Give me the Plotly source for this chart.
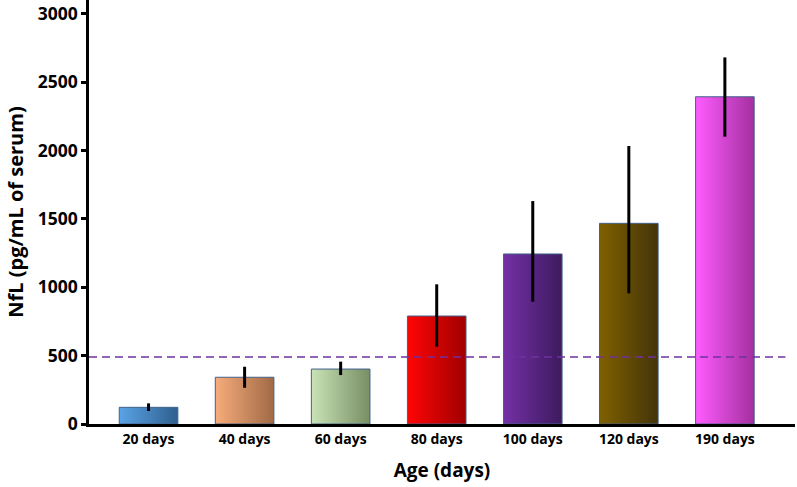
import plotly.graph_objects as go

categories = ["20 days", "40 days", "60 days", "80 days", "100 days", "120 days", "190 days"]
values = [122, 342, 402, 790, 1244, 1468, 2394]
err_plus = [29, 77, 54, 232, 387, 566, 288]
err_minus = [27, 77, 44, 225, 349, 512, 292]
left_colors = ["#5AA3E6", "#F7AC7C", "#C9E3B6", "#FF0505", "#7430A6", "#806000", "#FF5CFF"]
right_colors = ["#2F5F8E", "#A06A45", "#788E64", "#A00000", "#3D1A5E", "#43340A", "#A3309F"]
threshold = 490

BAR_W = 0.61
xs = list(range(len(categories)))

fig = go.Figure()
for i, (v, c1, c2) in enumerate(zip(values, left_colors, right_colors)):
    x0, x1 = xs[i] - BAR_W / 2, xs[i] + BAR_W / 2
    fig.add_trace(go.Scatter(
        x=[x0, x1, x1, x0, x0], y=[0, 0, v, v, 0],
        mode="lines", fill="toself",
        fillgradient=dict(type="horizontal", colorscale=[[0, c1], [1, c2]]),
        line=dict(color="#41618A", width=1),
        hoverinfo="skip", showlegend=False,
    ))

fig.add_trace(go.Scatter(
    x=xs, y=values, mode="markers",
    marker=dict(size=1, opacity=0),
    error_y=dict(type="data", array=err_plus, arrayminus=err_minus,
                 symmetric=False, thickness=3, width=0, color="black"),
    showlegend=False,
))

fig.add_shape(type="line", xref="x", yref="y", x0=-0.62, x1=6.63,
              y0=threshold, y1=threshold,
              line=dict(color="#7030A0", width=1.6, dash="8px,5px"))

font_family = "Open Sans, sans-serif"
fig.update_layout(
    width=797, height=487,
    margin=dict(l=89, r=2, t=0, b=63),
    plot_bgcolor="white", paper_bgcolor="white",
    font=dict(family=font_family, color="black"),
    xaxis=dict(range=[-0.62, 6.73], tickvals=xs, ticktext=categories,
               showline=True, linecolor="black", linewidth=2.5,
               showgrid=False, zeroline=False, ticks="",
               tickfont=dict(size=14, weight="bold"),
               title=dict(text="Age (days)", font=dict(size=19, weight="bold"), standoff=18)),
    yaxis=dict(range=[0, 3102], tickvals=[0, 500, 1000, 1500, 2000, 2500, 3000],
               showline=True, linecolor="black", linewidth=2.5,
               showgrid=False, zeroline=False, ticks="outside", ticklen=5,
               tickwidth=2.5, tickcolor="black",
               tickfont=dict(size=17.5, weight="bold"),
               title=dict(text="NfL (pg/mL of serum)", font=dict(size=20, weight="bold"), standoff=9)),
)

fig.write_html("out.html")
